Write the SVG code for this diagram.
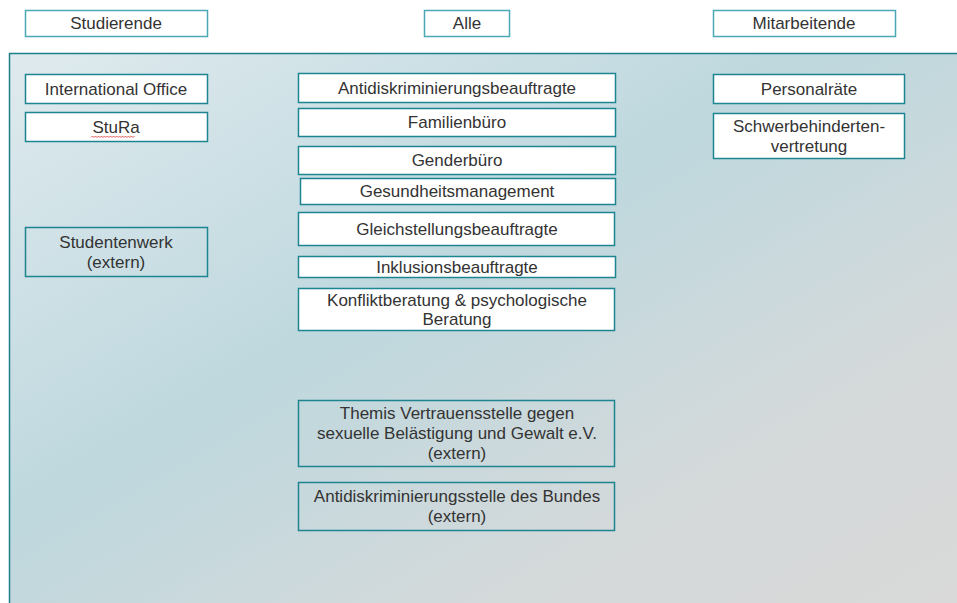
<svg xmlns="http://www.w3.org/2000/svg" width="957" height="603" viewBox="0 0 957 603">
<defs>
<linearGradient id="bg" x1="0" y1="0" x2="1" y2="1">
<stop offset="0" stop-color="#dfeaee"/>
<stop offset="0.42" stop-color="#bed8de"/>
<stop offset="0.75" stop-color="#d4d9da"/>
<stop offset="1" stop-color="#d9d9d9"/>
</linearGradient>
<style>
.hdr{fill:#ffffff;stroke:#4aa9b4;stroke-width:1.5}
.box{fill:#ffffff;stroke:#1d8591;stroke-width:1.5}
.ext{fill:none;stroke:#1d8591;stroke-width:1.5}
text{font-family:"Liberation Sans",Arial,sans-serif;font-size:17px;fill:#333333;text-anchor:middle}
</style>
</defs>
<rect width="957" height="603" fill="#ffffff"/>
<rect id="area" x="9.5" y="53.5" width="950" height="552" fill="url(#bg)" stroke="#1d7f8a" stroke-width="1.5"/>
<g id="studierende"><rect class="hdr" x="25.5" y="10.5" width="182" height="26"/><text x="116" y="29">Studierende</text></g>
<g id="alle"><rect class="hdr" x="424.5" y="10.5" width="85" height="26"/><text x="467" y="29">Alle</text></g>
<g id="mitarbeitende"><rect class="hdr" x="713.5" y="10.5" width="182" height="26"/><text x="804" y="29">Mitarbeitende</text></g>
<g id="international"><rect class="box" x="25.5" y="74.5" width="182" height="29"/><text x="116" y="95">International Office</text></g>
<g id="stura"><rect class="box" x="25.5" y="112.5" width="182" height="29"/><text x="116" y="133">StuRa</text><path d="M91 137.5 l1.5 -1.5 1.5 1.5 1.5 -1.5 1.5 1.5 1.5 -1.5 1.5 1.5 1.5 -1.5 1.5 1.5 1.5 -1.5 1.5 1.5 1.5 -1.5 1.5 1.5 1.5 -1.5 1.5 1.5 1.5 -1.5 1.5 1.5 1.5 -1.5 1.5 1.5 1.5 -1.5 1.5 1.5 1.5 -1.5 1.5 1.5 1.5 -1.5 1.5 1.5 1.5 -1.5 1.5 1.5 1.5 -1.5 1.5 1.5 1.5 -1.5" fill="none" stroke="#e03030" stroke-width="0.8"/></g>
<g id="studentenwerk"><rect class="ext" x="25.5" y="227.5" width="182" height="49"/><text x="116" y="248">Studentenwerk</text><text x="116" y="268">(extern)</text></g>
<g id="antidisk"><rect class="box" x="298.5" y="73.5" width="317" height="29"/><text x="457" y="94">Antidiskriminierungsbeauftragte</text></g>
<g id="familienbuero"><rect class="box" x="298.5" y="108.5" width="317" height="28"/><text x="457" y="128">Familienbüro</text></g>
<g id="genderbuero"><rect class="box" x="298.5" y="146.5" width="317" height="28"/><text x="457" y="166">Genderbüro</text></g>
<g id="gesundheit"><rect class="box" x="300.5" y="178.5" width="315" height="26"/><text x="457" y="197">Gesundheitsmanagement</text></g>
<g id="gleichstellung"><rect class="box" x="298.5" y="212.5" width="316" height="33"/><text x="457" y="235">Gleichstellungsbeauftragte</text></g>
<g id="inklusion"><rect class="box" x="298.5" y="256.5" width="317" height="21"/><text x="457" y="273">Inklusionsbeauftragte</text></g>
<g id="konflikt"><rect class="box" x="298.5" y="288.5" width="316" height="42"/><text x="457" y="306">Konfliktberatung &amp; psychologische</text><text x="457" y="325">Beratung</text></g>
<g id="themis"><rect class="ext" x="298.5" y="400.5" width="316" height="66"/><text x="457" y="419">Themis Vertrauensstelle gegen</text><text x="457" y="439">sexuelle Belästigung und Gewalt e.V.</text><text x="457" y="459">(extern)</text></g>
<g id="ads"><rect class="ext" x="298.5" y="482.5" width="316" height="48"/><text x="457" y="502">Antidiskriminierungsstelle des Bundes</text><text x="457" y="522">(extern)</text></g>
<g id="personalraete"><rect class="box" x="713.5" y="74.5" width="191" height="29"/><text x="809" y="95">Personalräte</text></g>
<g id="schwerbehinderten"><rect class="box" x="713.5" y="113.5" width="191" height="45"/><text x="809" y="132">Schwerbehinderten-</text><text x="809" y="152">vertretung</text></g>
<g id="connectors"/>
</svg>
